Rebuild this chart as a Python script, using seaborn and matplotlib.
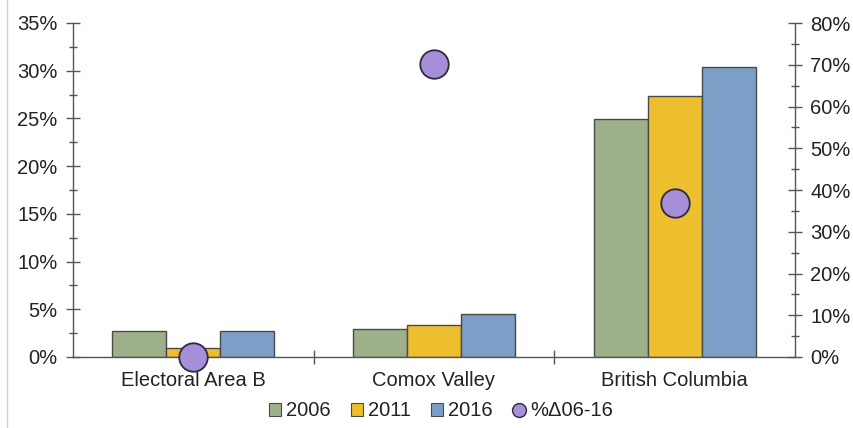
import matplotlib
matplotlib.use("Agg")
import matplotlib.pyplot as plt
from matplotlib.lines import Line2D
from matplotlib.patches import Patch
from matplotlib.ticker import MultipleLocator, PercentFormatter, FixedLocator
import seaborn as sns
import pandas as pd

# Share of population by area, census years
areas = ["Electoral Area B", "Comox Valley", "British Columbia"]
years = ["2006", "2011", "2016"]
share_2006 = [2.75, 2.95, 24.9]
share_2011 = [0.95, 3.4, 27.35]
share_2016 = [2.75, 4.5, 30.35]
# Percent change 2006-2016 (right axis)
pct_change = [0.0, 70.2, 37.0]

bar_colors = ["#9DB08A", "#EDBE2E", "#7C9FC8"]
dot_color = "#A78ED8"

df = pd.DataFrame({
    "area": areas * 3,
    "year": [y for y in years for _ in areas],
    "share": share_2006 + share_2011 + share_2016,
})
dots = pd.DataFrame({"area": areas, "change": pct_change})

sns.set_style("white")
plt.rcParams["font.family"] = ["Liberation Sans", "DejaVu Sans"]

fs = 14.5
fig = plt.figure(figsize=(8.54, 4.28), dpi=100)
ax = fig.add_axes([73 / 854, 1 - 357 / 428, (795 - 73) / 854, (357 - 23) / 428])

sns.barplot(data=df, x="area", y="share", hue="year", order=areas, hue_order=years,
            palette=bar_colors, width=0.673, gap=0, edgecolor="#4a4a4a", linewidth=1.0,
            saturation=1, legend=False, ax=ax)

ax.set_ylim(0, 35)
ax.set_xlim(-0.5, 2.5)
ax.yaxis.set_major_locator(MultipleLocator(5))
ax.yaxis.set_minor_locator(MultipleLocator(2.5))
ax.yaxis.set_major_formatter(PercentFormatter(decimals=0))
ax.set_xlabel("")
ax.set_ylabel("")
ax.set_xticks([0, 1, 2])
ax.set_xticklabels(areas)
ax.xaxis.set_minor_locator(FixedLocator([0.5, 1.5]))
ax.tick_params(axis="x", which="major", length=0, labelsize=fs, pad=10, colors="#222222")
ax.tick_params(axis="x", which="minor", direction="inout", length=10, width=1, color="#555555")
ax.tick_params(axis="y", which="major", direction="inout", length=10, width=1,
               color="#555555", labelsize=fs, labelcolor="#222222", pad=6)
ax.tick_params(axis="y", which="minor", direction="inout", length=6, width=1, color="#555555")
ax.yaxis.set_tick_params(which="both", left=True)
ax.xaxis.set_tick_params(which="minor", bottom=True)

for side in ["left", "bottom"]:
    ax.spines[side].set_color("#555555")
    ax.spines[side].set_linewidth(1.0)
ax.spines["top"].set_visible(False)
ax.spines["right"].set_visible(False)

ax2 = ax.twinx()
sns.scatterplot(data=dots, x="area", y="change", s=420, color=dot_color,
                edgecolor="#2e2a40", linewidth=1.3, zorder=5, clip_on=False,
                legend=False, ax=ax2)
ax2.set_ylim(0, 80)
ax2.set_xlim(-0.5, 2.5)
ax2.yaxis.set_major_locator(MultipleLocator(10))
ax2.yaxis.set_minor_locator(MultipleLocator(5))
ax2.yaxis.set_major_formatter(PercentFormatter(decimals=0))
ax2.set_ylabel("")
ax2.tick_params(axis="y", which="major", direction="inout", length=10, width=1,
                color="#555555", labelsize=fs, labelcolor="#222222", pad=6, right=True)
ax2.tick_params(axis="y", which="minor", direction="inout", length=6, width=1,
                color="#555555", right=True)
for side in ["left", "bottom", "top"]:
    ax2.spines[side].set_visible(False)
ax2.spines["right"].set_color("#555555")
ax2.spines["right"].set_linewidth(1.0)

handles = [Patch(facecolor=c, edgecolor="#4a4a4a", linewidth=0.8) for c in bar_colors]
handles.append(Line2D([], [], marker="o", linestyle="", markersize=10,
                      markerfacecolor=dot_color, markeredgecolor="#2e2a40"))
labels = years + ["%\u039406-16"]
fig.legend(handles, labels, loc="center", bbox_to_anchor=(441 / 854, 1 - 411 / 428),
           ncol=4, frameon=False, fontsize=fs, handlelength=0.6, handleheight=0.6,
           handletextpad=0.25, columnspacing=1.0, labelcolor="#222222")

fig.add_artist(Line2D([7 / 854, 7 / 854], [0, 1], color="#d0d0d0", linewidth=1.0))

fig.savefig("out.png", dpi=100)
